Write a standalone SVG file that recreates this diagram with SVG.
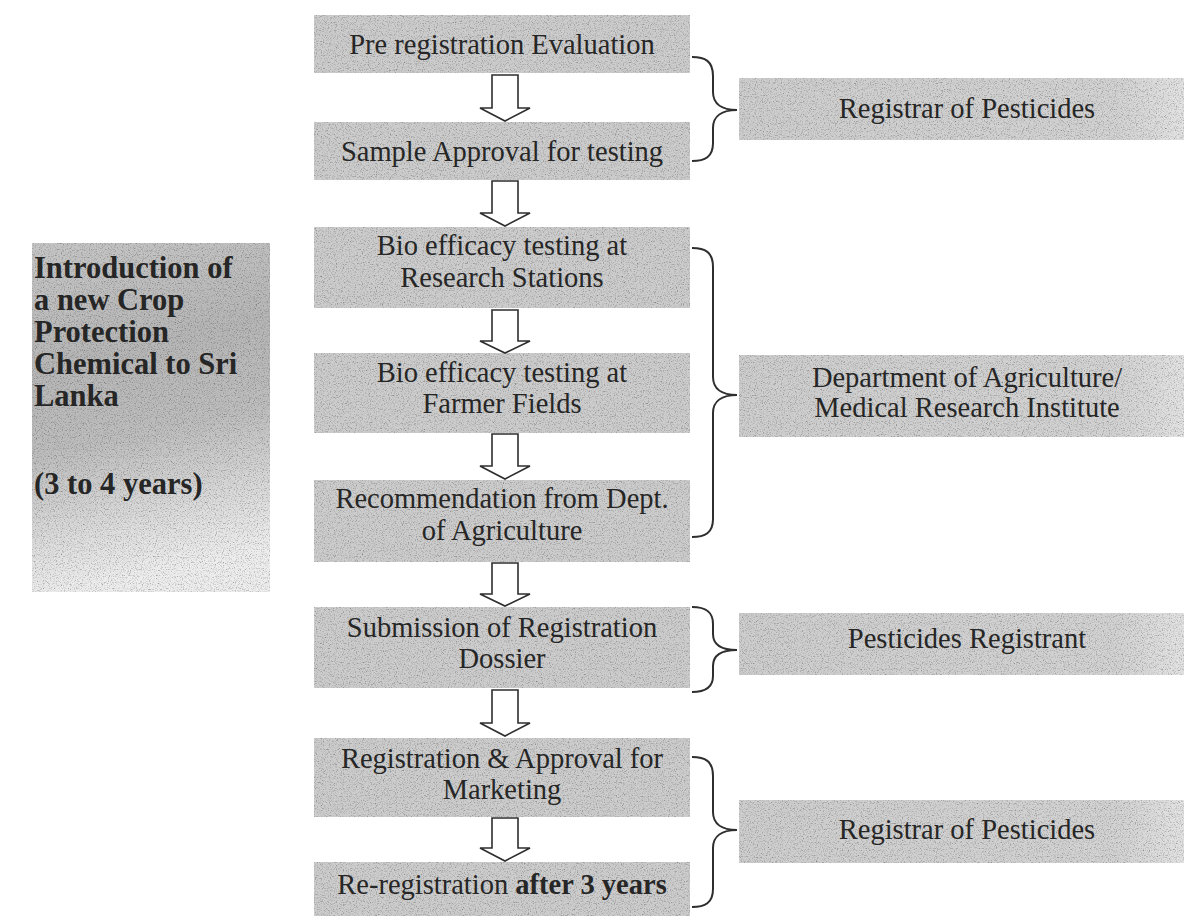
<svg xmlns="http://www.w3.org/2000/svg" width="1184" height="916" viewBox="0 0 1184 916">
  <defs>
    <filter id="grain" x="0" y="0" width="100%" height="100%" color-interpolation-filters="sRGB">
      <feTurbulence type="fractalNoise" baseFrequency="0.85" numOctaves="2" seed="4" result="t"/>
      <feColorMatrix in="t" type="matrix" values="0.33 0.33 0.33 0 0  0.33 0.33 0.33 0 0  0.33 0.33 0.33 0 0  0 0 0 0 1" result="g"/>
      <feComponentTransfer in="g" result="gc">
        <feFuncR type="linear" slope="1.3" intercept="0.35"/>
        <feFuncG type="linear" slope="1.3" intercept="0.35"/>
        <feFuncB type="linear" slope="1.3" intercept="0.35"/>
      </feComponentTransfer>
      <feBlend in="SourceGraphic" in2="gc" mode="multiply" result="b"/>
      <feComposite in="b" in2="SourceGraphic" operator="in"/>
    </filter>
    <linearGradient id="leftGrad" x1="0" y1="0" x2="0.15" y2="1">
      <stop offset="0" stop-color="#c6c6c6"/>
      <stop offset="0.35" stop-color="#b6b6b6"/>
      <stop offset="0.6" stop-color="#bdbdbd"/>
      <stop offset="0.85" stop-color="#dcdcdc"/>
      <stop offset="1" stop-color="#ededed"/>
    </linearGradient>
    <linearGradient id="rightGrad" x1="0" y1="0" x2="1" y2="0">
      <stop offset="0" stop-color="#cdcdcd"/>
      <stop offset="0.85" stop-color="#d2d2d2"/>
      <stop offset="1" stop-color="#e2e2e2"/>
    </linearGradient>
    <style>
      .box { fill: #cccccc; filter: url(#grain); }
      .rbox { fill: url(#rightGrad); filter: url(#grain); }
      .lbox { fill: url(#leftGrad); filter: url(#grain); }
      .t { font-family: "Liberation Serif", "Times New Roman", serif; font-size: 28.5px; fill: #262626; text-anchor: middle; }
      .lt { font-family: "Liberation Serif", "Times New Roman", serif; font-size: 30.5px; font-weight: bold; fill: #262626; }
      .arrow { fill: #ffffff; stroke: #2e2e2e; stroke-width: 1.6; stroke-linejoin: miter; }
      .brace { fill: none; stroke: #2e2e2e; stroke-width: 2; }
    </style>
  </defs>
  <rect width="1184" height="916" fill="#ffffff"/>

  <g id="intro">
    <rect class="lbox" x="32" y="243" width="238" height="349"/>
    <text class="lt" x="34" y="278">Introduction of</text>
    <text class="lt" x="34" y="310">a new Crop</text>
    <text class="lt" x="34" y="342">Protection</text>
    <text class="lt" x="34" y="374">Chemical to Sri</text>
    <text class="lt" x="34" y="406">Lanka</text>
    <text class="lt" x="34" y="494">(3 to 4 years)</text>
  </g>

  <g id="step1">
    <rect class="box" x="314" y="15" width="376" height="58"/>
    <text class="t" x="502" y="54">Pre registration Evaluation</text>
  </g>
  <g id="step2">
    <rect class="box" x="314" y="122" width="376" height="58"/>
    <text class="t" x="502" y="161">Sample Approval for testing</text>
  </g>
  <g id="step3">
    <rect class="box" x="314" y="227" width="376" height="81"/>
    <text class="t" x="502" y="255">Bio efficacy testing at</text>
    <text class="t" x="502" y="287">Research Stations</text>
  </g>
  <g id="step4">
    <rect class="box" x="314" y="353" width="376" height="80"/>
    <text class="t" x="502" y="382">Bio efficacy testing at</text>
    <text class="t" x="502" y="413">Farmer Fields</text>
  </g>
  <g id="step5">
    <rect class="box" x="314" y="480" width="376" height="82"/>
    <text class="t" x="502" y="508">Recommendation from Dept.</text>
    <text class="t" x="502" y="540">of Agriculture</text>
  </g>
  <g id="step6">
    <rect class="box" x="314" y="607" width="376" height="81"/>
    <text class="t" x="502" y="637">Submission of Registration</text>
    <text class="t" x="502" y="668">Dossier</text>
  </g>
  <g id="step7">
    <rect class="box" x="314" y="738" width="376" height="79"/>
    <text class="t" x="502" y="768">Registration &amp; Approval for</text>
    <text class="t" x="502" y="799">Marketing</text>
  </g>
  <g id="step8">
    <rect class="box" x="314" y="862" width="376" height="54"/>
    <text class="t" x="502" y="894"><tspan>Re-registration </tspan><tspan font-weight="bold">after 3 years</tspan></text>
  </g>

  <g id="actor1">
    <rect class="rbox" x="739" y="78" width="445" height="62"/>
    <text class="t" x="967" y="118">Registrar of Pesticides</text>
  </g>
  <g id="actor2">
    <rect class="rbox" x="739" y="355" width="445" height="82"/>
    <text class="t" x="967" y="387">Department of Agriculture/</text>
    <text class="t" x="967" y="417">Medical Research Institute</text>
  </g>
  <g id="actor3">
    <rect class="rbox" x="739" y="613" width="445" height="62"/>
    <text class="t" x="967" y="648">Pesticides Registrant</text>
  </g>
  <g id="actor4">
    <rect class="rbox" x="739" y="800" width="445" height="63"/>
    <text class="t" x="967" y="839">Registrar of Pesticides</text>
  </g>

  <g id="connectors">
    <path class="arrow" d="M492,75 H518 V108 H530 L505,121 L480,108 H492 Z"/>
    <path class="arrow" d="M492,181 H518 V213 H530 L505,226 L480,213 H492 Z"/>
    <path class="arrow" d="M492,310 H518 V341 H530 L505,353 L480,341 H492 Z"/>
    <path class="arrow" d="M492,434 H518 V466 H530 L505,479 L480,466 H492 Z"/>
    <path class="arrow" d="M492,563 H518 V594 H530 L505,606 L480,594 H492 Z"/>
    <path class="arrow" d="M492,690 H518 V723 H530 L505,736 L480,723 H492 Z"/>
    <path class="arrow" d="M492,818 H518 V848 H530 L505,861 L480,848 H492 Z"/>

    <path class="brace" d="M692,57 C705,57 713,61 713,76 L713,92 C713,104 722,110 737,110 C722,110 713,116 713,128 L713,143 C713,157 705,161 692,161"/>
    <path class="brace" d="M692,248 C705,248 713,252 713,267 L713,377 C713,389 722,395 737,395 C722,395 713,401 713,413 L713,519 C713,533 705,537 692,537"/>
    <path class="brace" d="M692,607 C705,607 713,611 713,624 L713,634 C713,645 722,650 737,650 C722,650 713,655 713,666 L713,676 C713,688 705,692 692,692"/>
    <path class="brace" d="M692,757 C705,757 713,761 713,776 L713,812 C713,824 722,830 737,830 C722,830 713,836 713,848 L713,889 C713,903 705,907 692,907"/>
  </g>
</svg>
